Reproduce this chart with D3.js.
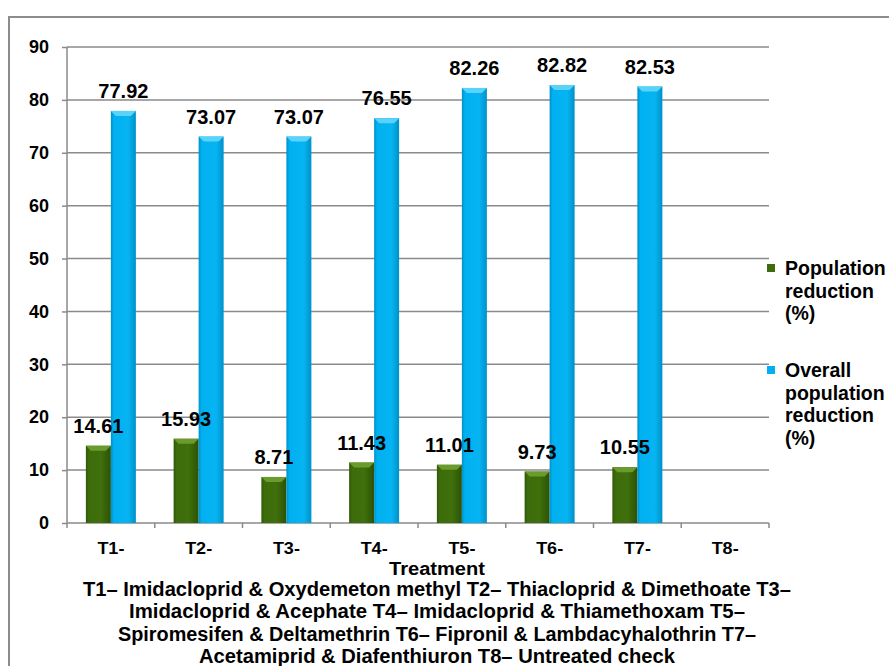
<!DOCTYPE html>
<html lang="en">
<head>
<meta charset="UTF-8">
<title>Treatment</title>
<script src="https://d3js.org/d3.v7.min.js"></script>
<style>
    body { margin: 0; background: #fff; }
    svg text { font-family: "Liberation Sans", Arial, sans-serif; font-weight: bold; fill: #000; }
</style>
</head>
<body>
<script>

    // chart data
    var categories = ["T1-", "T2-", "T3-", "T4-", "T5-", "T6-", "T7-", "T8-"];
    var popReduction = [14.61, 15.93, 8.71, 11.43, 11.01, 9.73, 10.55, null];
    var overallReduction = [77.92, 73.07, 73.07, 76.55, 82.26, 82.82, 82.53, null];
    var yTicks = [0, 10, 20, 30, 40, 50, 60, 70, 80, 90];
    var seriesNames = [["Population", "reduction", "(%)"], ["Overall", "population", "reduction", "(%)"]];
    var captionLines = [
        "T1\u2013 Imidacloprid & Oxydemeton methyl T2\u2013 Thiacloprid & Dimethoate T3\u2013",
        "Imidacloprid  & Acephate T4\u2013 Imidacloprid & Thiamethoxam T5\u2013",
        "Spiromesifen & Deltamethrin T6\u2013  Fipronil & Lambdacyhalothrin T7\u2013",
        "Acetamiprid & Diafenthiuron T8\u2013 Untreated check"
    ];

    var width = 889, height = 666;
    var plotLeft = 67, plotRight = 769, plotTop = 47, plotBottom = 523;
    var barW = 25;
    var gridColor = "#8a8a8a";

    var svg = d3.select("body").append("svg")
        .attr("width", width)
        .attr("height", height);

    var defs = svg.append("defs");

    function cylinder(id, stops) {
        var g = defs.append("linearGradient").attr("id", id)
            .attr("x1", "0%").attr("x2", "100%").attr("y1", "0%").attr("y2", "0%");
        stops.forEach(function (s) {
            g.append("stop").attr("offset", s[0]).attr("stop-color", s[1]);
        });
    }
    cylinder("greenGrad", [["0%", "#2f5806"], ["12%", "#3d6c0b"], ["60%", "#3f700c"], ["100%", "#2c5205"]]);
    cylinder("blueGrad", [["0%", "#0090c8"], ["12%", "#00b0f0"], ["70%", "#06b4f2"], ["100%", "#0091c9"]]);

    // outer frame
    svg.append("rect")
        .attr("x", 9).attr("y", 17)
        .attr("width", 900).attr("height", 700)
        .attr("fill", "none")
        .attr("stroke", "#8c8c8c")
        .attr("stroke-width", 2);

    var x = d3.scaleBand()
        .domain(categories)
        .range([plotLeft, plotRight])
        .padding(0);

    var y = d3.scaleLinear()
        .domain([0, 90])
        .range([plotBottom, plotTop]);

    // gridlines
    svg.append("g").selectAll("line")
        .data(yTicks.filter(function (d) { return d > 0; }))
        .enter().append("line")
        .attr("x1", plotLeft).attr("x2", plotRight)
        .attr("y1", function (d) { return y(d); })
        .attr("y2", function (d) { return y(d); })
        .attr("stroke", gridColor)
        .attr("stroke-width", 1.5);

    // y axis
    var yAxis = svg.append("g")
        .attr("transform", "translate(" + plotLeft + ",0)")
        .call(d3.axisLeft(y).tickValues(yTicks).tickSize(5).tickPadding(13));
    yAxis.selectAll("line, path").attr("stroke", gridColor).attr("stroke-width", 1.5);
    yAxis.select(".domain").attr("d", "M0," + plotTop + "V" + plotBottom);
    yAxis.selectAll("text")
        .style("font-family", "'Liberation Sans', Arial, sans-serif")
        .style("font-weight", "bold")
        .style("font-size", "18px")
        .attr("fill", "#000");

    // x axis line and boundary ticks
    svg.append("line")
        .attr("x1", plotLeft).attr("x2", plotRight)
        .attr("y1", plotBottom).attr("y2", plotBottom)
        .attr("stroke", gridColor).attr("stroke-width", 1.5);

    var bounds = categories.map(function (c) { return x(c); }).concat([plotRight]);
    svg.append("g").selectAll("line")
        .data(bounds)
        .enter().append("line")
        .attr("x1", function (d) { return d; })
        .attr("x2", function (d) { return d; })
        .attr("y1", plotBottom).attr("y2", plotBottom + 5)
        .attr("stroke", gridColor).attr("stroke-width", 1.5);

    svg.append("g").selectAll("text")
        .data(categories)
        .enter().append("text")
        .attr("x", function (d) { return x(d) + x.bandwidth() / 2; })
        .attr("y", 554)
        .attr("text-anchor", "middle")
        .attr("font-size", "17px")
        .attr("textLength", 27)
        .attr("lengthAdjust", "spacingAndGlyphs")
        .text(function (d) { return d; });

    // bars
    var barLayer = svg.append("g");
    var labelLayer = svg.append("g");

    function drawSeries(values, offset, fillId, topColor) {
        var g = barLayer.append("g");
        var rows = values.map(function (v, i) { return { v: v, c: categories[i] }; })
            .filter(function (d) { return d.v !== null; });

        g.selectAll("rect")
            .data(rows)
            .enter().append("rect")
            .attr("x", function (d) { return x(d.c) + x.bandwidth() / 2 + offset; })
            .attr("y", function (d) { return y(d.v); })
            .attr("width", barW)
            .attr("height", function (d) { return plotBottom - y(d.v); })
            .attr("fill", "url(#" + fillId + ")");

        // top bevel
        g.selectAll("polygon")
            .data(rows)
            .enter().append("polygon")
            .attr("points", function (d) {
                var x0 = x(d.c) + x.bandwidth() / 2 + offset;
                var y0 = y(d.v);
                return [[x0, y0], [x0 + barW, y0], [x0 + barW - 5, y0 + 5], [x0 + 5, y0 + 5]].join(" ");
            })
            .attr("fill", topColor);

        labelLayer.append("g").selectAll("text")
            .data(rows)
            .enter().append("text")
            .attr("x", function (d) { return x(d.c) + x.bandwidth() / 2 + offset + barW / 2; })
            .attr("y", function (d) { return y(d.v) - 13; })
            .attr("text-anchor", "middle")
            .attr("font-size", "20px")
            .text(function (d) { return d.v.toFixed(2); });
    }

    drawSeries(popReduction, -barW, "greenGrad", "#6a9b2c");
    drawSeries(overallReduction, 0, "blueGrad", "#5ad3fa");

    // legend
    var legendColors = ["#3d6c0b", "#00b0f0"];
    var legendTop = [268, 370];
    seriesNames.forEach(function (lines, k) {
        svg.append("rect")
            .attr("x", 767).attr("y", legendTop[k] - 4)
            .attr("width", 8).attr("height", 8)
            .attr("fill", legendColors[k]);
        svg.append("g").selectAll("text")
            .data(lines)
            .enter().append("text")
            .attr("x", 785)
            .attr("y", function (d, i) { return legendTop[k] + 7 + i * 22.5; })
            .attr("font-size", "19.5px")
            .text(function (d) { return d; });
    });

    // axis title and caption
    svg.append("text")
        .attr("x", 437).attr("y", 575)
        .attr("text-anchor", "middle")
        .attr("font-size", "18px")
        .attr("textLength", 96)
        .attr("lengthAdjust", "spacingAndGlyphs")
        .text("Treatment");

    var captionWidths = [708, 616, 638, 476];
    svg.append("g").selectAll("text")
        .data(captionLines)
        .enter().append("text")
        .attr("x", 437)
        .attr("y", function (d, i) { return 596 + i * 22.3; })
        .attr("text-anchor", "middle")
        .attr("font-size", "20px")
        .attr("textLength", function (d, i) { return captionWidths[i]; })
        .attr("lengthAdjust", "spacingAndGlyphs")
        .text(function (d) { return d; });

</script>
</body>
</html>
